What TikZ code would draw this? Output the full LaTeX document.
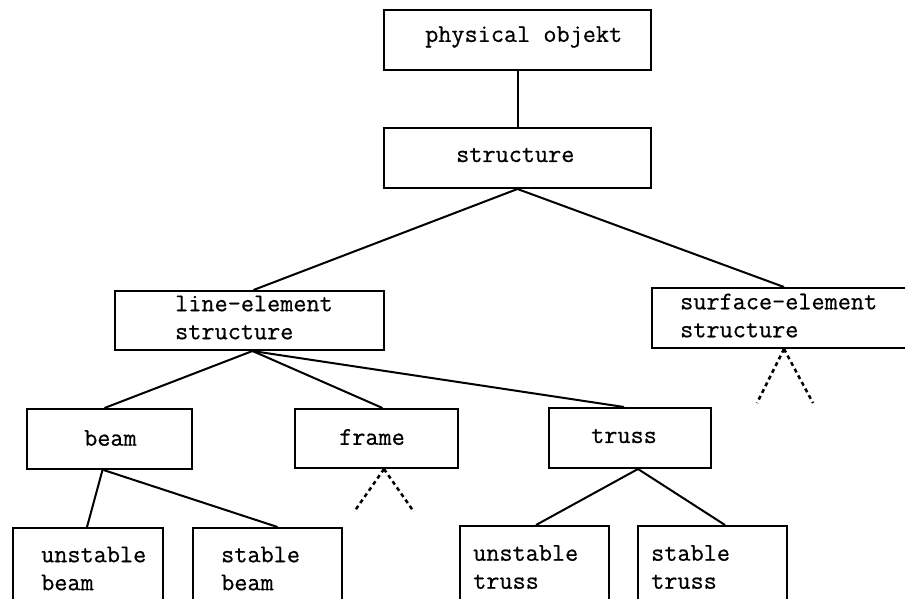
\documentclass[tikz,border=0pt]{standalone}
\usepackage{fontspec}
\newfontfamily\labelfont{Latin Modern Mono}[FakeBold=0.6]
\begin{document}
\begin{tikzpicture}[x=1pt,y=-1pt,
  box/.style={draw, line width=2pt, rectangle, inner sep=0pt, anchor=north west},
  txt/.style={inner sep=0pt, anchor=west, align=left,
              font=\labelfont\fontsize{25.5}{28}\selectfont},
  link/.style={line width=2pt},
  hint/.style={line width=2.5pt, dash pattern=on 4pt off 3.5pt}]
\useasboundingbox (0,0) rectangle (905,599);
\clip (0,0) rectangle (905,599);

% boxes of the hierarchy
\node[box, minimum width=267pt, minimum height=60pt] (phys)   at (383,9)   {};
\node[box, minimum width=267pt, minimum height=60pt] (struct) at (383,127) {};
\node[box, minimum width=269pt, minimum height=59pt] (line)   at (114,290) {};
\node[box, minimum width=264pt, minimum height=60pt] (surf)   at (651,287) {};
\node[box, minimum width=165pt, minimum height=60pt] (beam)   at (26,408)  {};
\node[box, minimum width=163pt, minimum height=59pt] (frame)  at (294,408) {};
\node[box, minimum width=162pt, minimum height=60pt] (truss)  at (548,407) {};
\node[box, minimum width=150pt, minimum height=80pt] (ubeam)  at (12,527)  {};
\node[box, minimum width=149pt, minimum height=80pt] (sbeam)  at (192,527) {};
\node[box, minimum width=149pt, minimum height=80pt] (utruss) at (459,525) {};
\node[box, minimum width=149pt, minimum height=80pt] (struss) at (637,525) {};

% labels
\node[txt] (physT)   at (425,37)    {physical objekt};
\node[txt] (structT) at (456,155)   {structure};
\node[txt] (lineT)   at (175,317.5) {line-element\\structure};
\node[txt] (surfT)   at (680,315.5) {surface-element\\structure};
\node[txt] (beamT)   at (84,438)    {beam};
\node[txt] (frameT)  at (339,437)   {frame};
\node[txt] (trussT)  at (591,436)   {truss};
\node[txt] (ubeamT)  at (41,568.5)  {unstable\\beam};
\node[txt] (sbeamT)  at (221,568.5) {stable\\beam};
\node[txt] (utrussT) at (473,567)   {unstable\\truss};
\node[txt] (strussT) at (651,567)   {stable\\truss};

% connectors
\draw[link] (phys.south) -- (struct.north);
\draw[link] (struct.south) -- ([xshift=4pt]line.north);
\draw[link] (struct.south) -- (surf.north);
\draw[link] ([xshift=3pt]line.south) -- ([xshift=-5pt]beam.north);
\draw[link] ([xshift=3pt]line.south) -- ([xshift=6pt]frame.north);
\draw[link] ([xshift=3pt]line.south) -- ([xshift=-6pt]truss.north);
\draw[link] ([xshift=-7pt]beam.south) -- ([xshift=-1pt]ubeam.north);
\draw[link] ([xshift=-6pt]beam.south) -- ([xshift=10pt]sbeam.north);
\draw[link] ([xshift=8pt]truss.south) -- ([xshift=1.5pt]utruss.north);
\draw[link] ([xshift=8pt]truss.south) -- ([xshift=12.5pt]struss.north);

% dotted hints of further branches
\coordinate (surfL)  at (757,403);
\coordinate (surfR)  at (813,403);
\coordinate (frameL) at (354,512);
\coordinate (frameR) at (414,512);
\draw[hint] (surf.south) -- (surfL);
\draw[hint] (surf.south) -- (surfR);
\draw[hint] ([xshift=7.5pt]frame.south) -- (frameL);
\draw[hint] ([xshift=7.5pt]frame.south) -- (frameR);
\end{tikzpicture}
\end{document}
